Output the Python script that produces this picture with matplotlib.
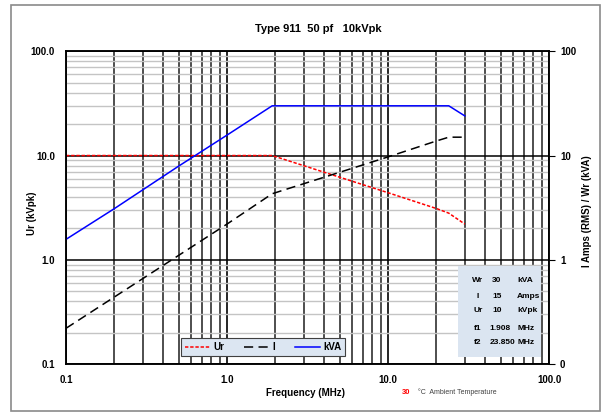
import matplotlib
matplotlib.use("Agg")
import matplotlib.pyplot as plt
from matplotlib.patches import Rectangle
from matplotlib.ticker import FixedLocator, NullFormatter, LogLocator

# -------------------------
# Data
# -------------------------
freq_mhz = [0.1, 0.2, 0.5, 1.0, 1.908, 5.0, 10.0, 20.0, 23.85, 30.0]
ur_kvpk = [10, 10, 10, 10, 10, 6.2, 4.4, 3.1, 2.8, 2.2]
i_amps = [0.22, 0.44, 1.1, 2.2, 4.3, 6.9, 9.7, 13.8, 15, 15]
kva = [1.57, 3.1, 7.9, 15.7, 30, 30, 30, 30, 30, 24]

left_ticks = [0.1, 1, 10, 100]
left_labels = ["0.1", "1.0", "10.0", "100.0"]
right_labels = ["0", "1", "10", "100"]
x_ticks = [0.1, 1, 10, 100]
x_labels = ["0.1", "1.0", "10.0", "100.0"]

info_rows = [
    ("Wr", "30", "kVA"),
    ("I", "15", "Amps"),
    ("Ur", "10", "kVpk"),
    ("f1", "1.908", "MHz"),
    ("f2", "23.850", "MHz"),
]
ambient_temp = "30"

plt.rcParams["font.family"] = ["Liberation Sans", "DejaVu Sans"]

W, H = 610, 412
fig = plt.figure(figsize=(W / 100, H / 100), dpi=100)


def fx(x):
    return x / W


def fy(y):
    return 1 - y / H


ax = fig.add_axes([fx(66), fy(364), fx(549) - fx(66), fy(51.3) - fy(364)])
ax2 = ax.twinx()

for a in (ax, ax2):
    a.set_xscale("log")
    a.set_yscale("log")
    a.set_xlim(0.1, 100)
    a.set_ylim(0.1, 100)

# grid
ax.xaxis.set_major_locator(FixedLocator(x_ticks))
ax.xaxis.set_minor_locator(LogLocator(base=10, subs=range(2, 10)))
ax.xaxis.set_minor_formatter(NullFormatter())
ax.yaxis.set_major_locator(FixedLocator(left_ticks))
ax.yaxis.set_minor_locator(LogLocator(base=10, subs=range(2, 10)))
ax.yaxis.set_minor_formatter(NullFormatter())
ax.grid(True, which="minor", axis="y", color="#c4c4c4", lw=1.0)
ax.grid(True, which="major", axis="y", color="black", lw=1.1)
ax.grid(True, which="minor", axis="x", color="#1e1e1e", lw=1.1)
ax.grid(True, which="major", axis="x", color="black", lw=1.2)
ax.set_axisbelow(True)

ax.set_xticklabels(x_labels, fontsize=7, fontweight="bold")
ax.set_yticklabels(left_labels, fontsize=7, fontweight="bold")
ax.tick_params(which="both", length=0)
ax.tick_params(axis="x", pad=8)
ax.tick_params(axis="y", pad=8)

ax2.yaxis.set_major_locator(FixedLocator(left_ticks))
ax2.yaxis.set_minor_locator(LogLocator(base=10, subs=range(2, 10)))
ax2.yaxis.set_minor_formatter(NullFormatter())
ax2.set_yticklabels(right_labels, fontsize=7, fontweight="bold")
ax2.tick_params(axis="y", which="major", length=4, direction="out", pad=4)
ax2.tick_params(axis="y", which="minor", length=0)

for a in (ax, ax2):
    for s in a.spines.values():
        s.set_color("black")
        s.set_linewidth(1.1)

# lines
l_ur, = ax.plot(freq_mhz, ur_kvpk, color="red", lw=1.1, ls=(0, (2.2, 1.2)), label="Ur")
l_i, = ax2.plot(freq_mhz, i_amps, color="black", lw=1.1, ls=(0, (6, 3.5)), label="I")
l_kva, = ax2.plot(freq_mhz, kva, color="#0000ff", lw=1.1, label="kVA")

leg = ax2.legend(
    handles=[l_ur, l_i, l_kva], ncol=3, loc="lower left",
    bbox_to_anchor=(0.238, 0.026, 0.34, 0.079), mode="expand",
    prop={"size": 7, "weight": "bold"}, frameon=True, fancybox=False,
    handlelength=2.6, handletextpad=0.3, columnspacing=1.2, borderaxespad=0,
)
leg.get_frame().set_facecolor("#dce6f2")
leg.get_frame().set_edgecolor("#404040")
leg.get_frame().set_alpha(1)
leg.get_frame().set_linewidth(0.8)

# info box
x0, x1 = 458, 541
y0, y1 = 266, 357
ax2.add_patch(Rectangle((fx(x0), fy(y1)), fx(x1) - fx(x0), fy(y0) - fy(y1),
                        transform=fig.transFigure, facecolor="#dbe5f1",
                        edgecolor="none", zorder=5))
row_y = [281, 296, 310, 328, 342]
val_x = [497, 497, 497, 500, 503]
for (lab, val, unit), ry, vx in zip(info_rows, row_y, val_x):
    fig.text(fx(478), fy(ry), lab, fontsize=6, fontweight="bold",
             ha="center", va="center", zorder=6)
    fig.text(fx(vx), fy(ry), val, fontsize=6, fontweight="bold",
             ha="center", va="center", zorder=6)
    fig.text(fx(517), fy(ry), unit, fontsize=6, fontweight="bold",
             ha="left", va="center", zorder=6)

# labels
fig.text(fx(318), fy(29), "Type 911  50 pf   10kVpk", fontsize=8,
         fontweight="bold", ha="center", va="center")
fig.text(fx(305), fy(393), "Frequency (MHz)", fontsize=7,
         fontweight="bold", ha="center", va="center")
fig.text(fx(32), fy(213), "Ur (kVpk)", fontsize=7, fontweight="bold",
         ha="center", va="center", rotation=90)
fig.text(fx(587), fy(211), "I Amps (RMS) / Wr (kVA)", fontsize=7,
         fontweight="bold", ha="center", va="center", rotation=90)
fig.text(fx(410), fy(392), ambient_temp, fontsize=5.5, fontweight="bold",
         color="red", ha="right", va="center")
fig.text(fx(418), fy(392), "°C  Ambient Temperature", fontsize=5,
         color="#404040", ha="left", va="center")

# outer border
fig.add_artist(Rectangle((fx(11), fy(411)), fx(600) - fx(11), fy(4.7) - fy(411),
                         transform=fig.transFigure, fill=False,
                         edgecolor="#8a8a8a", lw=1.2))

fig.savefig("out.png", dpi=100)
